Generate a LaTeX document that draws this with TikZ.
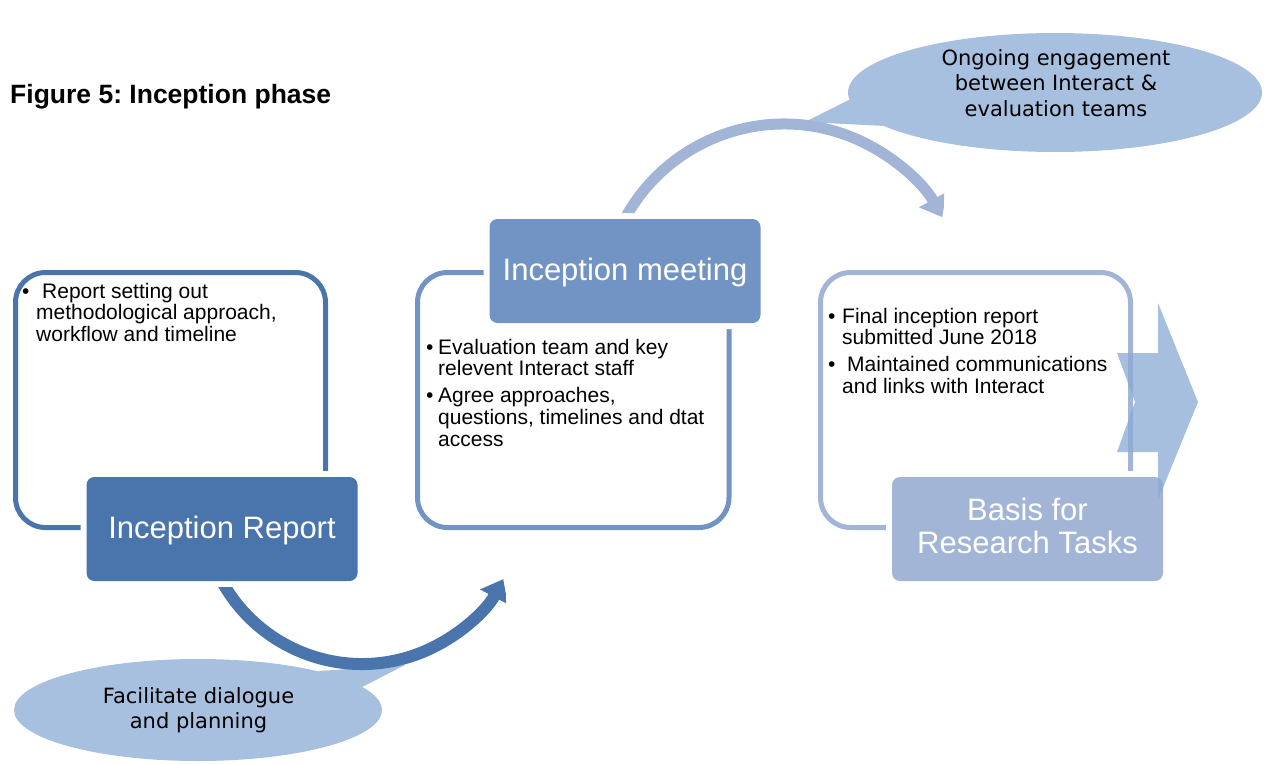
\documentclass[tikz,border=0pt]{standalone}
\usepackage{fontspec}
\setmainfont{Liberation Sans}
\newfontfamily\calloutfont{DejaVu Sans}
\usetikzlibrary{arrows.meta,shapes.geometric}
\frenchspacing

\definecolor{repblue}{HTML}{4A75AC}
\definecolor{meetblue}{HTML}{7294C4}
\definecolor{basisblue}{HTML}{A2B5D7}
\definecolor{calloutblue}{HTML}{A8C0DF}
\definecolor{chevblue}{HTML}{8AAAD4}

\tikzset{
  frame/.style={line width=5pt, rounded corners=30pt},
  titlebox/.style={preaction={draw=white, line width=12pt}, rounded corners=8pt,
    minimum width=271pt, minimum height=104pt, inner sep=0pt, text depth=3pt,
    text=white, align=center, font=\fontsize{31}{33}\selectfont},
  bullets/.style={anchor=base west, inner sep=0pt, font=\fontsize{21}{21.5}\selectfont},
  callout/.style={ellipse, fill=calloutblue, inner sep=0pt},
  callouttext/.style={anchor=base, inner sep=0pt, font=\calloutfont\fontsize{21}{25.5}\selectfont},
  bend arrow/.style={line width=12pt, -{Triangle[width=30pt,length=20pt]}},
}

\begin{document}
\begin{tikzpicture}[x=1pt,y=-1pt]
\useasboundingbox (0,0) rectangle (1266,763);

\node[anchor=base west, inner sep=0pt, font=\bfseries\fontsize{26.5}{30}\selectfont] (title) at (10,103) {Figure 5: Inception phase};

% callouts
\node[callout, minimum width=414pt, minimum height=119pt] (ongoing) at (1055,92.5) {};
\coordinate (ongoingtip) at (805,122);
\fill[calloutblue] (ongoing.182) -- (ongoingtip) -- (ongoing.191) -- cycle;
\node[callouttext] (ongoingtext) at (1056,65) {\begin{tabular}[t]{@{}c@{}}Ongoing engagement\\between Interact \&\\evaluation teams\end{tabular}};

\node[callout, minimum width=368pt, minimum height=102pt] (dialogue) at (198,710) {};
\coordinate (dialoguetip) at (405,665);
\fill[calloutblue] (dialogue.18) -- (dialoguetip) -- (dialogue.8) -- cycle;
\node[callouttext] (dialoguetext) at (198.5,703) {\begin{tabular}[t]{@{}c@{}}Facilitate dialogue\\and planning\end{tabular}};

% frames
\draw[frame, draw=repblue] (15.5,272.5) rectangle (325.5,527.5);
\draw[frame, draw=meetblue] (417.5,272.5) rectangle (729,527.5);
\draw[frame, draw=basisblue] (820.5,272.5) rectangle (1130.5,527.5);

\node[titlebox, fill=repblue] (rep) at (222,529) {Inception Report};
\node[titlebox, fill=meetblue] (meet) at (625,271) {Inception meeting};
\node[titlebox, fill=basisblue, text depth=6pt] (basis) at (1027.5,529) {Basis for\\Research Tasks};

\node[bullets] (repnotes) at (22,298) {\begin{tabular}[t]{@{}p{14pt}@{}l@{}}
\textbullet & \hspace{6pt}Report setting out\\
 & methodological approach,\\
 & workflow and timeline
\end{tabular}};
\node[bullets] (meetnotes) at (426,354) {\begin{tabular}[t]{@{}p{12pt}@{}l@{}}
\textbullet & Evaluation team and key\\
 & relevent Interact staff\\[5.5pt]
\textbullet & Agree approaches,\\
 & questions, timelines and dtat\\
 & access
\end{tabular}};
\node[bullets] (basisnotes) at (828,323) {\begin{tabular}[t]{@{}p{14pt}@{}l@{}}
\textbullet & Final inception report\\
 & submitted June 2018\\[5.5pt]
\textbullet & \hspace{5pt}Maintained communications\\
 & and links with Interact
\end{tabular}};

% curved arrows
\coordinate (lowhub) at (362,504);
\coordinate (highhub) at (784,305);
\begin{scope}
\clip (0,587) rectangle (506,763) (420,480) rectangle (506,763);
\draw[bend arrow, draw=repblue] (lowhub) ++(155:160) arc[start angle=155, end angle=28, radius=160];
\end{scope}
\begin{scope}
\clip (0,0) rectangle (944,213) (700,0) rectangle (944,300);
\draw[bend arrow, line width=11pt, draw=basisblue] (highhub) ++(205:181) arc[start angle=205, end angle=331, radius=181];
\end{scope}

\fill[chevblue, fill opacity=0.75] (1117,353) -- (1158,353) -- (1158,303) -- (1198,402) -- (1158,500) -- (1158,452) -- (1117,452) -- (1135,402) -- cycle;
\end{tikzpicture}
\end{document}
